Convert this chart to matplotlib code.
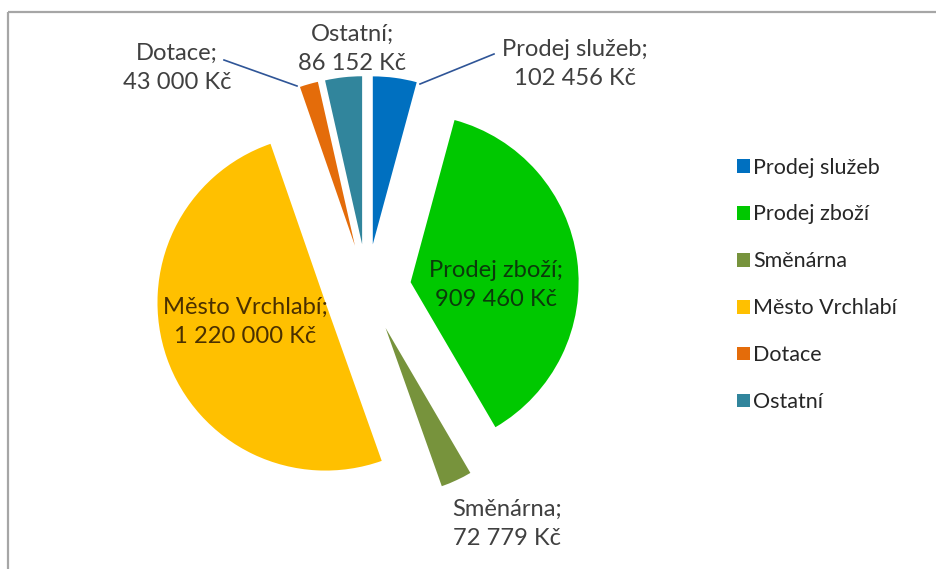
import matplotlib
matplotlib.use("Agg")
import matplotlib.pyplot as plt

# ---- data ----
categories = ["Prodej služeb", "Prodej zboží", "Směnárna", "Město Vrchlabí", "Dotace", "Ostatní"]
values = [102456, 909460, 72779, 1220000, 43000, 86152]
colors = ["#0070C0", "#00C800", "#77933C", "#FFC000", "#E46C0A", "#31859C"]

W, H = 936, 569
FONT = ["Lato", "DejaVu Sans"]

fig = plt.figure(figsize=(W / 100, H / 100), dpi=100)
ax = fig.add_axes([0, 0, 1, 1])


def P(x, y):
    return (x, H - y)


# pie geometry in pixel units
center = P(367, 288)
radius = 168
explode = [44] * len(values)

wedges, _ = ax.pie(values, colors=colors, startangle=90, counterclock=False,
                   center=center, radius=radius, explode=explode,
                   wedgeprops=dict(linewidth=0))
ax.set_xlim(0, W)
ax.set_ylim(0, H)
ax.set_aspect("auto")
ax.axis("off")

# frame border
ax.plot([8, W + 5], [H - 12, H - 12], color="#a6a6a6", lw=1.6, solid_capstyle="butt")
ax.plot([8, 8], [H - 12, -5], color="#a6a6a6", lw=1.6, solid_capstyle="butt")

# fit font sizes to measured text widths
fig.canvas.draw()
r = fig.canvas.get_renderer()


def fit(txt, target):
    t = ax.text(0, 0, txt, fontsize=10, family=FONT)
    w = t.get_window_extent(r).width
    t.remove()
    return 10 * target / w


label_fs = fit("Město Vrchlabí;", 165)
legend_fs = fit("Město Vrchlabí", 144)


def fmt(v):
    return f"{v:,}".replace(",", " ") + " Kč"


label_pos = {
    "Prodej služeb": (575, 64),
    "Prodej zboží": (496, 285),
    "Směnárna": (507, 524),
    "Město Vrchlabí": (245, 322),
    "Dotace": (177, 68),
    "Ostatní": (352, 49),
}
label_col = {
    "Prodej zboží": "#0b3a0b",
    "Město Vrchlabí": "#4a3000",
}
for name, v in zip(categories, values):
    x, y = label_pos[name]
    ax.text(*P(x, y), f"{name};\n{fmt(v)}", ha="center", va="center",
            fontsize=label_fs, family=FONT, color=label_col.get(name, "#404040"),
            linespacing=1.5)

# leader lines
for (x1, y1), (x2, y2) in [((224, 60), (297, 86)), ((420, 84), (494, 54))]:
    ax.plot([P(x1, y1)[0], P(x2, y2)[0]], [P(x1, y1)[1], P(x2, y2)[1]],
            color="#2F5597", lw=1.2)

# legend
fs_px = legend_fs * 100 / 72
t = ax.text(0, 0, "Město Vrchlabí", fontsize=legend_fs, family=FONT)
th = t.get_window_extent(r).height
t.remove()
pitch = 46.9
spacing = (pitch - th) / fs_px
top = 167.6 - th / 2
leg = ax.legend(wedges, categories, loc="upper left",
                bbox_to_anchor=(737 / W, 1 - top / H), frameon=False,
                prop=dict(family=FONT, size=legend_fs),
                handlelength=0.6, handleheight=0.6, handletextpad=0.15,
                labelspacing=spacing, borderpad=0, borderaxespad=0)
for txt in leg.get_texts():
    txt.set_color("#262626")

fig.savefig("out.png", dpi=100)
